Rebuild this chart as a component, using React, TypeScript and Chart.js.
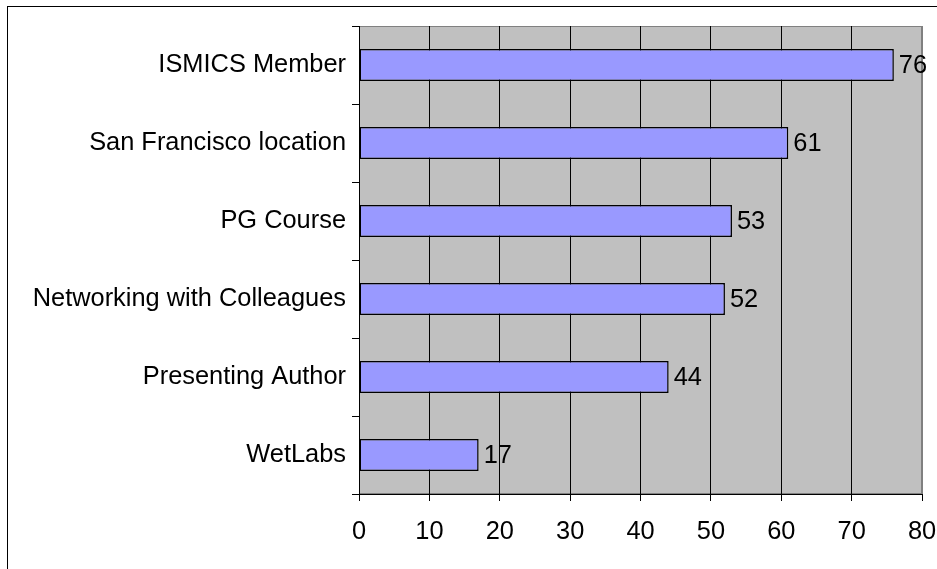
import React, { useEffect, useRef } from "react";
import { Chart, registerables } from "chart.js";

Chart.register(...registerables);

const categories = [
  "ISMICS Member",
  "San Francisco location",
  "PG Course",
  "Networking with Colleagues",
  "Presenting Author",
  "WetLabs",
];
const values = [76, 61, 53, 52, 44, 17];
const xMin = 0;
const xMax = 80;
const xStep = 10;

const FONT = "'Liberation Sans', Arial, sans-serif";
const FONT_SIZE = 25.4;

export default function App() {
  const ref = useRef<HTMLCanvasElement | null>(null);

  useEffect(() => {
    if (!ref.current) return;
    const plotBg = {
      id: "plotBg",
      beforeDraw(chart: any) {
        const { ctx, chartArea: a } = chart;
        ctx.save();
        ctx.fillStyle = "#C0C0C0";
        ctx.fillRect(a.left, a.top, a.right - a.left, a.bottom - a.top);
        ctx.strokeStyle = "#808080";
        ctx.lineWidth = 1;
        ctx.strokeRect(a.left + 0.5, a.top + 0.5, a.right - a.left - 1, a.bottom - a.top - 1);
        ctx.restore();
      },
    };
    const valueLabels = {
      id: "valueLabels",
      afterDatasetsDraw(chart: any) {
        const { ctx } = chart;
        const meta = chart.getDatasetMeta(0);
        ctx.save();
        ctx.font = `${FONT_SIZE}px ${FONT}`;
        ctx.fillStyle = "#000";
        ctx.textAlign = "left";
        ctx.textBaseline = "middle";
        meta.data.forEach((el: any, i: number) => {
          ctx.fillText(String(values[i]), el.x + 5, el.y + 1);
        });
        ctx.restore();
      },
    };
    const chart = new Chart(ref.current, {
      type: "bar",
      data: {
        labels: categories,
        datasets: [
          {
            data: values,
            backgroundColor: "#9999FF",
            borderColor: "#000000",
            borderWidth: 1.5,
            borderSkipped: false,
            categoryPercentage: 1,
            barPercentage: 0.41,
          },
        ],
      },
      options: {
        indexAxis: "y",
        responsive: false,
        animation: false,
        layout: { padding: { left: 0, top: 26, right: 15, bottom: 0 } },
        plugins: {
          legend: { display: false },
          tooltip: { enabled: false },
          title: { display: false },
        },
        scales: {
          x: {
            min: xMin,
            max: xMax,
            ticks: {
              stepSize: xStep,
              color: "#000",
              font: { family: FONT, size: FONT_SIZE },
              padding: 16,
              maxRotation: 0,
            },
            grid: {
              color: (c: any) => (c.tick && c.tick.value === xMax ? "#808080" : "#000000"),
              lineWidth: 1,
              tickLength: 7,
              tickColor: "#000",
            },
            border: { display: true, color: "#000", width: 1 },
            afterFit(scale: any) {
              scale.height = 569 - 494;
              scale.paddingRight = 0;
              scale.paddingLeft = 0;
            },
          },
          y: {
            ticks: {
              color: "#000",
              font: { family: FONT, size: FONT_SIZE },
              padding: 6,
            },
            grid: {
              offset: true,
              drawOnChartArea: false,
              drawTicks: true,
              tickLength: 7,
              tickColor: "#000",
              color: "#000",
            },
            border: { display: true, color: "#000", width: 1 },
            afterFit(scale: any) {
              scale.width = 359;
              scale.paddingTop = 0;
              scale.paddingBottom = 0;
            },
          },
        },
      },
      plugins: [plotBg, valueLabels],
    });
    return () => chart.destroy();
  }, []);

  return (
    <div style={{ position: "fixed", left: 0, top: 0, width: 937, height: 569, overflow: "hidden", background: "#fff" }}>
      <canvas ref={ref} width={937} height={569} style={{ position: "absolute", left: 0, top: 0 }} />
      <div
        style={{
          position: "absolute",
          left: 7,
          top: 6,
          width: 1200,
          height: 1200,
          border: "1px solid #000",
          pointerEvents: "none",
        }}
      />
    </div>
  );
}
